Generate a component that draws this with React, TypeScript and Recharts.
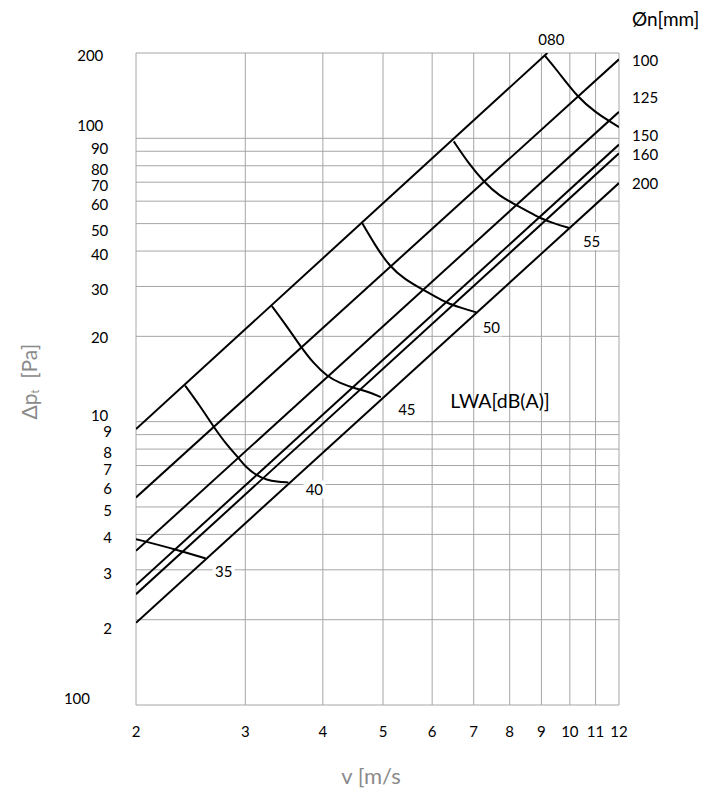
import React from 'react';
import { LineChart, Line, XAxis, YAxis, CartesianGrid, ReferenceDot, Label } from 'recharts';

const FONT = 'Lato, "Noto Sans", sans-serif';

// axis ticks (log-log)
const vTicks = [2, 3, 4, 5, 6, 7, 8, 9, 10, 11, 12];
const pTicks = [1, 2, 3, 4, 5, 6, 7, 8, 9, 10, 20, 30, 40, 50, 60, 70, 80, 90, 100, 200];

// duct diameter lines, Øn [mm]
const duct080 = [{ v: 2, p: 9.41 }, { v: 9.2, p: 200 }];
const duct100 = [{ v: 2, p: 5.4 }, { v: 12, p: 190 }];
const duct125 = [{ v: 2, p: 3.5 }, { v: 12, p: 124 }];
const duct150 = [{ v: 2, p: 2.65 }, { v: 12, p: 95 }];
const duct160 = [{ v: 2, p: 2.46 }, { v: 12, p: 88.5 }];
const duct200 = [{ v: 2, p: 1.95 }, { v: 12, p: 69.5 }];

// sound power curves LWA [dB(A)]
const lwa35 = [{ v: 2, p: 3.85 }, { v: 2.33, p: 3.53 }, { v: 2.59, p: 3.29 }];
const lwa40 = [
  { v: 2.4, p: 13.4 }, { v: 2.54, p: 11.3 }, { v: 2.67, p: 9.56 }, { v: 2.8, p: 8.28 },
  { v: 2.93, p: 7.43 }, { v: 3.0, p: 6.94 }, { v: 3.13, p: 6.44 }, { v: 3.25, p: 6.23 },
  { v: 3.37, p: 6.14 }, { v: 3.52, p: 6.1 },
];
const lwa45 = [
  { v: 3.31, p: 25.6 }, { v: 3.5, p: 21.7 }, { v: 3.69, p: 18.3 }, { v: 3.86, p: 16.1 },
  { v: 4.07, p: 14.4 }, { v: 4.26, p: 13.7 }, { v: 4.51, p: 13.1 }, { v: 4.71, p: 12.8 },
  { v: 4.96, p: 12.2 },
];
const lwa50 = [
  { v: 4.62, p: 50.5 }, { v: 4.85, p: 42.1 }, { v: 5.12, p: 35.3 }, { v: 5.43, p: 31.7 },
  { v: 5.8, p: 29.2 }, { v: 6.06, p: 27.7 }, { v: 6.34, p: 26.2 }, { v: 6.69, p: 25.2 },
  { v: 7.07, p: 24.3 },
];
const lwa55 = [
  { v: 6.5, p: 97.5 }, { v: 6.86, p: 81.8 }, { v: 7.28, p: 69.9 }, { v: 7.71, p: 62.4 },
  { v: 8.18, p: 58.3 }, { v: 8.62, p: 54.7 }, { v: 8.95, p: 52.3 }, { v: 9.4, p: 50.2 },
  { v: 9.99, p: 48.2 },
];
const lwa60 = [
  { v: 9.11, p: 196 }, { v: 9.52, p: 174.7 }, { v: 10.31, p: 138.8 }, { v: 11.04, p: 122.9 },
  { v: 11.59, p: 114.7 }, { v: 12, p: 109.5 },
];

const ducts = [
  { name: '080', data: duct080, dx: 4, dy: -14, anchor: 'middle' },
  { name: '100', data: duct100, dx: 13, dy: 1, anchor: 'start' },
  { name: '125', data: duct125, dx: 13, dy: -15, anchor: 'start' },
  { name: '150', data: duct150, dx: 13, dy: -10, anchor: 'start' },
  { name: '160', data: duct160, dx: 13, dy: 1, anchor: 'start' },
  { name: '200', data: duct200, dx: 13, dy: 0, anchor: 'start' },
];

const curves = [
  { name: '35', data: lwa35, dx: 18, dy: 13 },
  { name: '40', data: lwa40, dx: 26, dy: 7 },
  { name: '45', data: lwa45, dx: 26, dy: 12 },
  { name: '50', data: lwa50, dx: 15, dy: 15 },
  { name: '55', data: lwa55, dx: 22, dy: 13 },
  { name: '', data: lwa60, dx: 0, dy: 0 },
];

// tick label nudges [right edge x, dy] to follow the original layout
const yTickPos = (v: number): [number, number] => {
  const x = v === 1 ? 82 : v >= 100 ? 95.3 : v >= 10 ? 100.3 : 104;
  const dyMap: Record<number, number> = { 1: -7, 2: 8, 9: -3.6, 10: -6.3, 20: 0.7, 50: 6.7, 90: -3, 100: -13.6, 200: 2.4 };
  return [x, dyMap[v] ?? 3];
};

const YTick = (props: any) => {
  const { y, payload } = props;
  const v = payload.value;
  const [x, dy] = yTickPos(v);
  return (
    <text x={x} y={y + dy} textAnchor="end" dominantBaseline="central" fontSize={15} fontFamily={FONT} fill="#000">
      {v === 1 ? '100' : String(v)}
    </text>
  );
};

const XTick = (props: any) => {
  const { x, payload } = props;
  return (
    <text x={x} y={723} textAnchor="middle" dominantBaseline="central" fontSize={15} fontFamily={FONT} fill="#000">
      {String(payload.value)}
    </text>
  );
};

const tag = (text: string, dx: number, dy: number, anchor: string, boxed: boolean, size = 15) => (props: any) => {
  const vb = props.viewBox || {};
  const cx = (vb.x ?? 0) + (vb.width ?? 0) / 2 + dx;
  const cy = (vb.y ?? 0) + (vb.height ?? 0) / 2 + dy;
  const w = text.length * 9 + 4;
  return (
    <g>
      {boxed && <rect x={cx - w / 2} y={cy - 9} width={w} height={18} fill="#fff" />}
      <text x={cx} y={cy} textAnchor={anchor as any} dominantBaseline="central" fontSize={size} fontFamily={FONT} fill="#000">
        {text}
      </text>
    </g>
  );
};

const YTitle = () => (
  <text
    x={20.3}
    y={373.7}
    transform="rotate(-90 20.3 373.7)"
    textAnchor="middle"
    dominantBaseline="central"
    fontSize={21}
    fontFamily={FONT}
    fill="#8a8a8a"
  >
    Δp<tspan fontSize={11} dy={6}>t</tspan>
    <tspan dy={-6}>{'\u00a0\u00a0[Pa]'}</tspan>
  </text>
);

const XTitle = () => (
  <text x={363} y={767} textAnchor="middle" dominantBaseline="central" fontSize={22} fontFamily={FONT} fill="#8a8a8a">
    v [m/s
  </text>
);

export default function App() {
  return (
    <LineChart width={700} height={784} margin={{ top: 45, right: 89, bottom: 57, left: 68 }}>
      <CartesianGrid stroke="#a6a6a6" strokeWidth={1} />
      <XAxis
        type="number"
        dataKey="v"
        scale="log"
        domain={[2, 12]}
        ticks={vTicks}
        interval={0}
        allowDataOverflow
        axisLine={false}
        tickLine={false}
        height={30}
        tick={<XTick />}
      >
        <Label content={<XTitle />} />
      </XAxis>
      <YAxis
        type="number"
        dataKey="p"
        scale="log"
        domain={[1, 200]}
        ticks={pTicks}
        interval={0}
        allowDataOverflow
        axisLine={false}
        tickLine={false}
        width={60}
        tick={<YTick />}
      >
        <Label content={<YTitle />} />
      </YAxis>

      {ducts.map((d) => (
        <Line
          key={'d' + d.name}
          data={d.data}
          dataKey="p"
          type="linear"
          stroke="#000"
          strokeWidth={2}
          dot={false}
          activeDot={false}
          isAnimationActive={false}
        />
      ))}
      {curves.map((c, i) => (
        <Line
          key={'c' + i}
          data={c.data}
          dataKey="p"
          type="basis"
          stroke="#000"
          strokeWidth={2}
          dot={false}
          activeDot={false}
          isAnimationActive={false}
        />
      ))}

      {ducts.map((d) => {
        const last = d.data[d.data.length - 1];
        return (
          <ReferenceDot
            key={'dl' + d.name}
            x={last.v}
            y={last.p}
            r={1}
            fill="none"
            stroke="none"
            ifOverflow="visible"
            label={{ content: tag(d.name, d.dx, d.dy, d.anchor, false) }}
          />
        );
      })}
      {curves.filter((c) => c.name).map((c) => {
        const last = c.data[c.data.length - 1];
        return (
          <ReferenceDot
            key={'cl' + c.name}
            x={last.v}
            y={last.p}
            r={1}
            fill="none"
            stroke="none"
            ifOverflow="visible"
            label={{ content: tag(c.name, c.dx, c.dy, 'middle', true) }}
          />
        );
      })}
      <ReferenceDot
        x={12}
        y={200}
        r={1}
        fill="none"
        stroke="none"
        ifOverflow="visible"
        label={{ content: tag('Øn[mm]', 13, -35, 'start', false, 19) }}
      />
      <ReferenceDot
        x={7.69}
        y={12}
        r={1}
        fill="none"
        stroke="none"
        ifOverflow="visible"
        label={{ content: tag('LWA[dB(A)]', 1, 1, 'middle', false, 19.5) }}
      />
    </LineChart>
  );
}
